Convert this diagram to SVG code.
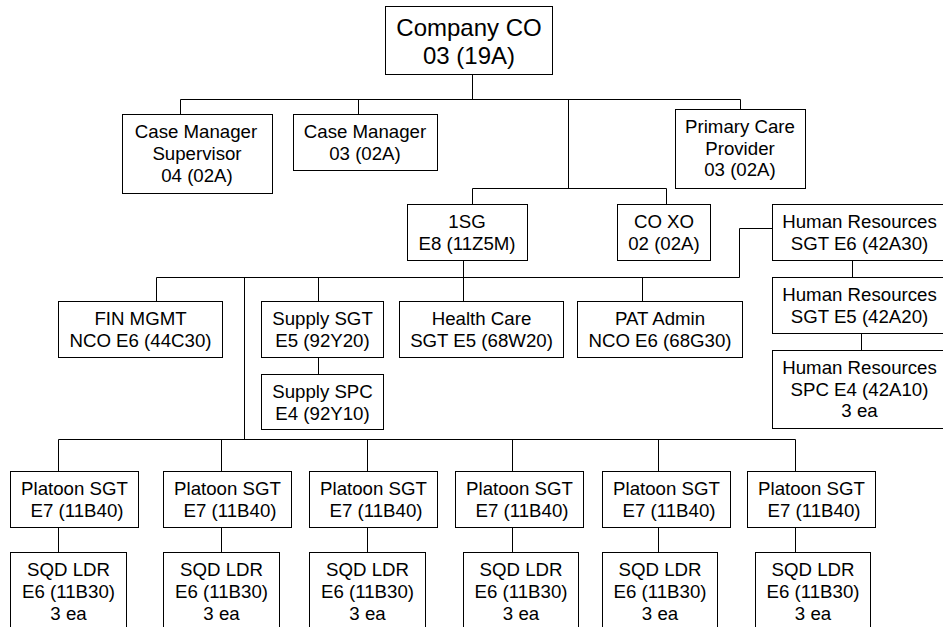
<svg xmlns="http://www.w3.org/2000/svg" width="943" height="627" viewBox="0 0 943 627">
<style>
.b{fill:#fff;stroke:#000;stroke-width:1}
.t{font-family:"Liberation Sans",Arial,sans-serif;font-size:18.67px;fill:#000;text-anchor:middle}
.big{font-size:24px}
.c{fill:none;stroke:#000;stroke-width:1}
</style>
<rect width="943" height="627" fill="#fff"/>
<g id="connectors" class="c">
<path d="M472.5 74V99.5"/>
<path d="M180.5 114V99.5H740.5V109"/>
<path d="M358.5 99.5V114"/>
<path d="M568.5 99.5V188.5"/>
<path d="M472.5 204V188.5H666.5V204"/>
<path d="M463.5 260V301"/>
<path d="M156.5 301V277.5H739.5V228.5H772"/>
<path d="M244.5 277.5V439.5"/>
<path d="M318.5 277.5V301"/>
<path d="M642.5 277.5V301"/>
<path d="M318.5 357V374"/>
<path d="M852.5 260V277"/>
<path d="M861.5 333V350"/>
<path d="M58.5 471V439.5H795.5V471"/>
<path d="M221.5 439.5V471"/>
<path d="M367.5 439.5V471"/>
<path d="M512.5 439.5V471"/>
<path d="M658.5 439.5V471"/>
<path d="M58.5 527V552M221.5 527V552M367.5 527V552M512.5 527V552M658.5 527V552M795.5 527V552"/>
</g>
<g id="co"><rect class="b" x="385.5" y="6.5" width="167" height="68"/><text class="t big" x="469" y="36">Company CO</text><text class="t big" x="469" y="64">03 (19A)</text></g>
<g id="cms"><rect class="b" x="122.5" y="114.5" width="150" height="79"/><text class="t" x="196" y="138">Case Manager</text><text class="t" x="197" y="160">Supervisor</text><text class="t" x="197" y="181.5">04 (02A)</text></g>
<g id="cm"><rect class="b" x="293.5" y="114.5" width="144" height="56"/><text class="t" x="365" y="138">Case Manager</text><text class="t" x="365" y="160">03 (02A)</text></g>
<g id="pcp"><rect class="b" x="675.5" y="109.5" width="130" height="79"/><text class="t" x="740" y="133">Primary Care</text><text class="t" x="740" y="154.5">Provider</text><text class="t" x="740" y="176">03 (02A)</text></g>
<g id="sg1"><rect class="b" x="407.5" y="204.5" width="120" height="56"/><text class="t" x="467" y="228">1SG</text><text class="t" x="467" y="250">E8 (11Z5M)</text></g>
<g id="coxo"><rect class="b" x="617.5" y="204.5" width="93" height="56"/><text class="t" x="664" y="228">CO XO</text><text class="t" x="664" y="250">02 (02A)</text></g>
<g id="hr1"><rect class="b" x="772.5" y="204.5" width="175" height="56"/><text class="t" x="859.5" y="228">Human Resources</text><text class="t" x="859.5" y="250">SGT E6 (42A30)</text></g>
<g id="hr2"><rect class="b" x="772.5" y="277.5" width="175" height="56"/><text class="t" x="859.5" y="301">Human Resources</text><text class="t" x="859.5" y="323">SGT E5 (42A20)</text></g>
<g id="hr3"><rect class="b" x="772.5" y="350.5" width="175" height="78"/><text class="t" x="859.5" y="374">Human Resources</text><text class="t" x="859.5" y="395.5">SPC E4 (42A10)</text><text class="t" x="859.5" y="417">3 ea</text></g>
<g id="fin"><rect class="b" x="58.5" y="301.5" width="164" height="56"/><text class="t" x="140.5" y="325">FIN MGMT</text><text class="t" x="140.5" y="347">NCO E6 (44C30)</text></g>
<g id="sup1"><rect class="b" x="261.5" y="301.5" width="122" height="56"/><text class="t" x="322.5" y="325">Supply SGT</text><text class="t" x="322.5" y="347">E5 (92Y20)</text></g>
<g id="sup2"><rect class="b" x="261.5" y="374.5" width="122" height="55"/><text class="t" x="322.5" y="398">Supply SPC</text><text class="t" x="322.5" y="420">E4 (92Y10)</text></g>
<g id="hc"><rect class="b" x="399.5" y="301.5" width="164" height="56"/><text class="t" x="481.5" y="325">Health Care</text><text class="t" x="481.5" y="347">SGT E5 (68W20)</text></g>
<g id="pat"><rect class="b" x="577.5" y="301.5" width="165" height="56"/><text class="t" x="660" y="325">PAT Admin</text><text class="t" x="660" y="347">NCO E6 (68G30)</text></g>
<g id="p1"><rect class="b" x="10.5" y="471.5" width="128" height="56"/><text class="t" x="74.5" y="495">Platoon SGT</text><text class="t" x="77" y="517">E7 (11B40)</text></g>
<g id="p2"><rect class="b" x="163.5" y="471.5" width="128" height="56"/><text class="t" x="227.5" y="495">Platoon SGT</text><text class="t" x="230" y="517">E7 (11B40)</text></g>
<g id="p3"><rect class="b" x="309.5" y="471.5" width="128" height="56"/><text class="t" x="373.5" y="495">Platoon SGT</text><text class="t" x="376" y="517">E7 (11B40)</text></g>
<g id="p4"><rect class="b" x="455.5" y="471.5" width="128" height="56"/><text class="t" x="519.5" y="495">Platoon SGT</text><text class="t" x="522" y="517">E7 (11B40)</text></g>
<g id="p5"><rect class="b" x="602.5" y="471.5" width="128" height="56"/><text class="t" x="666.5" y="495">Platoon SGT</text><text class="t" x="669" y="517">E7 (11B40)</text></g>
<g id="p6"><rect class="b" x="747.5" y="471.5" width="128" height="56"/><text class="t" x="811.5" y="495">Platoon SGT</text><text class="t" x="814" y="517">E7 (11B40)</text></g>
<g id="s1"><rect class="b" x="10.5" y="552.5" width="116" height="90"/><text class="t" x="68.5" y="576">SQD LDR</text><text class="t" x="68.5" y="598">E6 (11B30)</text><text class="t" x="68.5" y="620">3 ea</text></g>
<g id="s2"><rect class="b" x="163.5" y="552.5" width="116" height="90"/><text class="t" x="221.5" y="576">SQD LDR</text><text class="t" x="221.5" y="598">E6 (11B30)</text><text class="t" x="221.5" y="620">3 ea</text></g>
<g id="s3"><rect class="b" x="309.5" y="552.5" width="116" height="90"/><text class="t" x="367.5" y="576">SQD LDR</text><text class="t" x="367.5" y="598">E6 (11B30)</text><text class="t" x="367.5" y="620">3 ea</text></g>
<g id="s4"><rect class="b" x="463.5" y="552.5" width="115" height="90"/><text class="t" x="521" y="576">SQD LDR</text><text class="t" x="521" y="598">E6 (11B30)</text><text class="t" x="521" y="620">3 ea</text></g>
<g id="s5"><rect class="b" x="602.5" y="552.5" width="115" height="90"/><text class="t" x="660" y="576">SQD LDR</text><text class="t" x="660" y="598">E6 (11B30)</text><text class="t" x="660" y="620">3 ea</text></g>
<g id="s6"><rect class="b" x="755.5" y="552.5" width="115" height="90"/><text class="t" x="813" y="576">SQD LDR</text><text class="t" x="813" y="598">E6 (11B30)</text><text class="t" x="813" y="620">3 ea</text></g>
</svg>
